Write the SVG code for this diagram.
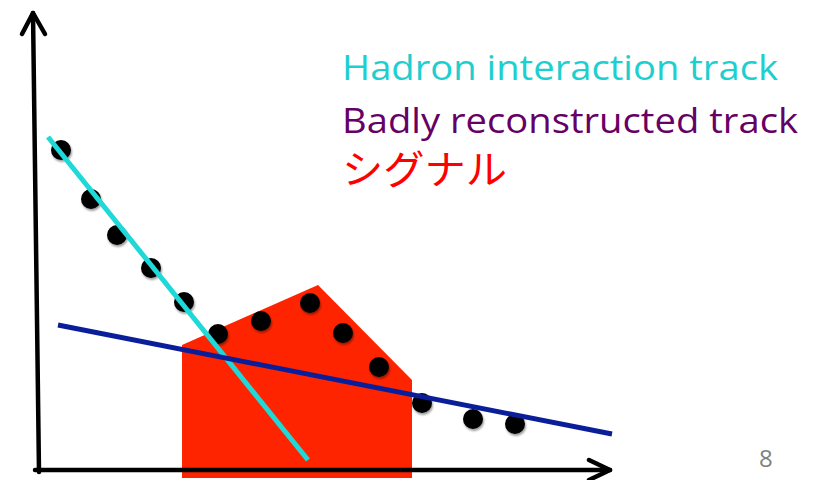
<svg xmlns="http://www.w3.org/2000/svg" width="814" height="480" viewBox="0 0 814 480">
<defs>
<filter id="sh" x="-50%" y="-50%" width="200%" height="200%"><feGaussianBlur in="SourceAlpha" stdDeviation="1.2"/><feOffset dx="1" dy="2"/><feComponentTransfer><feFuncA type="linear" slope="0.4"/></feComponentTransfer><feMerge><feMergeNode/><feMergeNode in="SourceGraphic"/></feMerge></filter>
</defs>
<style>
.ax{stroke:#000;stroke-width:4.5;fill:none;stroke-linecap:round;stroke-linejoin:round}
.dot{fill:#000;filter:url(#sh)}
.lbl{font-family:"Open Sans","Noto Sans CJK JP",sans-serif}
</style>
<rect width="814" height="480" fill="#fff"/>
<g id="signal-region">
<polygon points="182,345 318,285 412,380 412,478 182,478" fill="#FF2400"/>
</g>
<g id="axes">
<path class="ax" d="M39,472 L33,13"/>
<path class="ax" d="M22,34 L33,13 L45,34"/>
<path class="ax" d="M35,470 L610,470"/>
<path class="ax" d="M589,460 L610,470 L589,480"/>
</g>
<g id="points">
<circle class="dot" cx="61" cy="150" r="10"/>
<circle class="dot" cx="91" cy="199" r="10"/>
<circle class="dot" cx="117" cy="235" r="10"/>
<circle class="dot" cx="151" cy="268" r="10"/>
<circle class="dot" cx="184" cy="302" r="10"/>
<circle class="dot" cx="218" cy="334" r="10"/>
<circle class="dot" cx="261" cy="321" r="10"/>
<circle class="dot" cx="310" cy="303" r="10"/>
<circle class="dot" cx="343" cy="333" r="10"/>
<circle class="dot" cx="379" cy="367" r="10"/>
<circle class="dot" cx="422" cy="403" r="10"/>
<circle class="dot" cx="473" cy="419" r="10"/>
<circle class="dot" cx="515" cy="424" r="10"/>
</g>
<g id="tracks">
<line x1="48" y1="137" x2="308" y2="460" stroke="#1FD8D8" stroke-width="5"/>
<line x1="58" y1="325" x2="612" y2="434" stroke="#0A1E9A" stroke-width="5"/>
</g>
<g id="legend">
<text class="lbl" x="342" y="80" font-size="35" fill="#1ECFCF" textLength="436" lengthAdjust="spacingAndGlyphs">Hadron interaction track</text>
<text class="lbl" x="342" y="133" font-size="35" fill="#660066" textLength="456" lengthAdjust="spacingAndGlyphs">Badly reconstructed track</text>
<text class="lbl" x="342" y="184" font-size="40" fill="#FF0000" textLength="165" lengthAdjust="spacingAndGlyphs">シグナル</text>
</g>
<text class="lbl" x="759" y="467" font-size="24" fill="#808080">8</text>
</svg>
